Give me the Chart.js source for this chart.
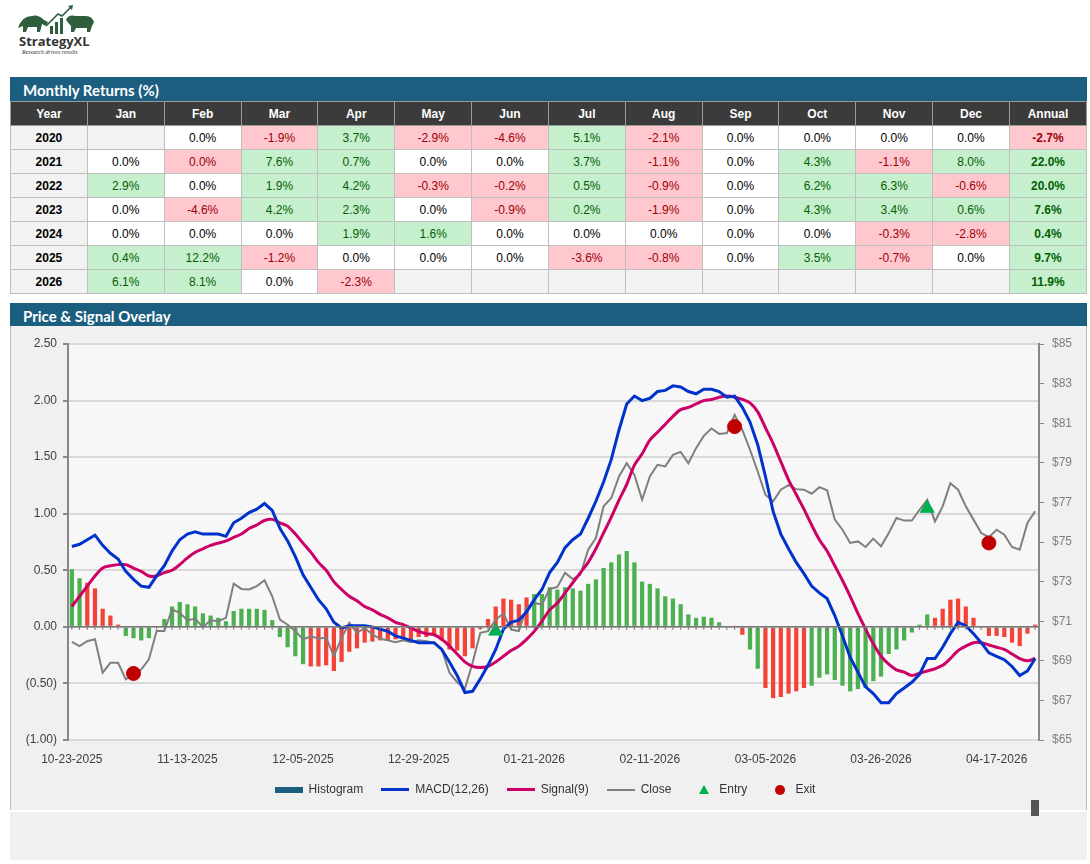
<!DOCTYPE html>
<html><head><meta charset="utf-8">
<script src="https://cdn.jsdelivr.net/npm/chart.js@4.4.1/dist/chart.umd.min.js"></script>
<style>
body{margin:0;width:1090px;height:864px;background:#fff;font-family:"Liberation Sans",Arial,sans-serif;position:relative;overflow:hidden}
.bar{position:absolute;left:10px;width:1077px;height:24px;background:#1b5e80;color:#fff;font-family:Lato,"Open Sans",sans-serif;font-weight:bold;font-size:15px;line-height:26px;padding-left:13px;box-sizing:border-box}
table{position:absolute;left:10px;top:101px;border-collapse:collapse;table-layout:fixed;width:1077px}
td,th{border:1px solid #bfbfbf;height:24px;padding:0;text-align:center;font-size:12px;box-sizing:border-box}
th{background:#3b3b3b;color:#fff;font-weight:bold;border-color:#9a9a9a}
td.y{background:#f2f2f2;font-weight:bold}
td.g{background:#c6efce;color:#006100}
td.r{background:#ffc7ce;color:#9c0006}
td.e{background:#f2f2f2}
td.b{font-weight:bold}
#panel{position:absolute;left:10px;top:326px;width:1077px;height:484px;background:#f0f0f0;border-left:1px solid #bbb;border-right:1px solid #bbb;box-sizing:border-box}
#legend{position:absolute;top:781px;left:0;width:1090px;text-align:center;font-size:12px;color:#333}
#legend span{display:inline-block;margin:0 9px;vertical-align:middle}
#foot{position:absolute;left:10px;top:812px;width:1077px;height:48px;background:#f0f0f0}
</style></head><body>
<svg style="position:absolute;left:16px;top:4px" width="80" height="36" viewBox="0 0 80 36">
<path d="M2 24 Q6 12 16 12 Q22 10 28 16 L32 18 L30 22 L26 20 L24 28 L21 28 L21 23 L12 23 L10 28 L7 28 L7 22 Z" fill="#2e5e3e"/>
<rect x="34" y="22" width="3" height="8" fill="#2e5e3e"/><rect x="39" y="18" width="3" height="12" fill="#2e5e3e"/><rect x="44" y="14" width="3" height="16" fill="#2e5e3e"/>
<path d="M30 22 L42 10 L46 12 L56 2" stroke="#2e5e3e" stroke-width="1.6" fill="none"/><path d="M52 2 L57 1 L56 6 Z" fill="#2e5e3e"/>
<path d="M50 16 Q52 10 60 12 L70 12 Q76 12 78 18 L76 22 L74 28 L71 28 L71 24 L60 24 L58 28 L55 28 L55 22 Z" fill="#2e5e3e"/>
</svg>
<div style="position:absolute;left:19px;top:32px;font-size:13px;font-weight:bold;color:#333;font-family:'Open Sans',sans-serif">StrategyXL</div>
<div style="position:absolute;left:22px;top:49px;font-size:6px;font-style:italic;color:#333;font-family:'Liberation Serif',serif">Research drives results</div>
<div class="bar" style="top:77px">Monthly Returns (%)</div>
<table id="tbl"></table>
<div class="bar" style="top:303px">Price &amp; Signal Overlay</div>
<div id="panel"><canvas id="c" width="1075" height="484" style="width:1075px;height:484px"></canvas></div>
<div id="legend"></div>
<div id="foot"><div style="position:absolute;left:1021px;top:-12px;width:8px;height:16px;background:#555"></div></div>
<script>
// ---- Monthly returns table ----
const years=[2020,2021,2022,2023,2024,2025,2026];
const monthNames=['Jan','Feb','Mar','Apr','May','Jun','Jul','Aug','Sep','Oct','Nov','Dec'];
const r2020=[null,0.0,-1.9,3.7,-2.9,-4.6,5.1,-2.1,0.0,0.0,0.0,0.0];
const r2021=[0.0,-0.01,7.6,0.7,0.0,0.0,3.7,-1.1,0.0,4.3,-1.1,8.0];
const r2022=[2.9,0.0,1.9,4.2,-0.3,-0.2,0.5,-0.9,0.0,6.2,6.3,-0.6];
const r2023=[0.0,-4.6,4.2,2.3,0.0,-0.9,0.2,-1.9,0.0,4.3,3.4,0.6];
const r2024=[0.0,0.0,0.0,1.9,1.6,0.0,0.0,0.0,0.0,0.0,-0.3,-2.8];
const r2025=[0.4,12.2,-1.2,0.0,0.0,0.0,-3.6,-0.8,0.0,3.5,-0.7,0.0];
const r2026=[6.1,8.1,0.0,-2.3,null,null,null,null,null,null,null,null];
const annual=[-2.7,22.0,20.0,7.6,0.4,9.7,11.9];
const rows=[r2020,r2021,r2022,r2023,r2024,r2025,r2026];
function fmt(v){return Math.abs(v).toFixed(1)==='0.0'?'0.0%':v.toFixed(1)+'%';}
function cls(v){return v>0?'g':(v<0?'r':'');}
let h='<tr><th>Year</th>'+monthNames.map(m=>'<th>'+m+'</th>').join('')+'<th>Annual</th></tr>';
rows.forEach((r,i)=>{h+='<tr><td class="y">'+years[i]+'</td>';
 r.forEach(v=>{h+=v===null?'<td class="e"></td>':'<td class="'+cls(v)+'">'+fmt(v)+'</td>';});
 h+='<td class="b '+cls(annual[i])+'">'+fmt(annual[i])+'</td></tr>';});
document.getElementById('tbl').innerHTML=h;

// ---- Chart data ----
const monthDays=[['10','2025',[23,24,27,28,29,30,31]],['11','2025',[3,4,5,6,7,10,11,12,13,14,17,18,19,20,21,24,25,26,28]],
['12','2025',[1,2,3,4,5,8,9,10,11,12,15,16,17,18,19,22,23,24,26,29,30,31]],['01','2026',[2,5,6,7,8,9,12,13,14,15,16,20,21,22,23,26,27,28,29,30]],
['02','2026',[2,3,4,5,6,9,10,11,12,13,17,18,19,20,23,24,25,26,27]],['03','2026',[2,3,4,5,6,9,10,11,12,13,16,17,18,19,20,23,24,25,26,27,30,31]],
['04','2026',[1,2,6,7,8,9,10,13,14,15,16,17,20,21,22,23,24]]];
const dates=[];monthDays.forEach(([m,y,ds])=>ds.forEach(d=>dates.push(m+'-'+String(d).padStart(2,'0')+'-'+y)));
const macd=[0.71,0.73,0.77,0.81,0.72,0.65,0.60,0.49,0.42,0.36,0.35,0.45,0.54,0.67,0.77,0.82,0.84,0.82,0.82,0.82,0.80,0.92,0.96,1.01,1.04,1.09,1.03,0.87,0.76,0.62,0.46,0.35,0.24,0.16,0.04,-0.01,0.01,0.01,0.01,0.00,-0.02,-0.04,-0.08,-0.10,-0.12,-0.14,-0.14,-0.14,-0.20,-0.31,-0.43,-0.58,-0.57,-0.46,-0.34,-0.20,-0.02,0.04,0.06,0.13,0.24,0.33,
0.48,0.57,0.70,0.77,0.82,0.96,1.11,1.28,1.48,1.74,1.97,2.04,2.00,2.02,2.08,2.09,2.13,2.12,2.08,2.06,2.10,2.10,2.08,2.03,2.04,1.94,1.81,1.61,1.33,1.02,0.82,0.69,0.57,0.47,0.36,0.30,0.25,0.10,-0.08,-0.27,-0.40,-0.53,-0.59,-0.67,-0.67,-0.59,-0.54,-0.49,-0.42,-0.28,-0.28,-0.18,-0.06,0.04,0.01,-0.06,-0.14,-0.23,-0.26,-0.29,-0.35,-0.43,-0.39,-0.28];
const signal=[0.18,0.27,0.36,0.45,0.52,0.54,0.55,0.55,0.52,0.49,0.45,0.45,0.48,0.50,0.55,0.61,0.66,0.69,0.72,0.74,0.76,0.79,0.82,0.87,0.90,0.94,0.95,0.92,0.89,0.82,0.74,0.66,0.57,0.50,0.40,0.33,0.27,0.23,0.18,0.15,0.11,0.08,0.04,0.02,-0.01,-0.04,-0.06,-0.07,-0.11,-0.17,-0.24,-0.31,-0.35,-0.36,-0.35,-0.31,-0.26,-0.21,-0.17,-0.11,-0.04,0.05,
0.15,0.21,0.30,0.39,0.48,0.57,0.69,0.83,0.97,1.12,1.26,1.43,1.53,1.65,1.72,1.79,1.86,1.92,1.94,1.97,2.00,2.01,2.03,2.04,2.03,2.01,1.98,1.90,1.76,1.62,1.46,1.30,1.17,1.04,0.90,0.77,0.67,0.54,0.41,0.27,0.12,-0.02,-0.15,-0.26,-0.33,-0.38,-0.40,-0.43,-0.41,-0.39,-0.37,-0.34,-0.28,-0.21,-0.17,-0.14,-0.14,-0.16,-0.18,-0.20,-0.24,-0.28,-0.30,-0.28];
const hist=[0.51,0.43,0.39,0.34,0.16,0.10,0.02,-0.08,-0.10,-0.12,-0.10,0.00,0.07,0.18,0.22,0.20,0.18,0.12,0.10,0.08,0.05,0.14,0.16,0.16,0.16,0.15,0.06,-0.09,-0.18,-0.26,-0.33,-0.35,-0.35,-0.34,-0.39,-0.31,-0.22,-0.19,-0.14,-0.13,-0.12,-0.12,-0.11,-0.11,-0.11,-0.09,-0.09,-0.07,-0.12,-0.20,-0.21,-0.26,-0.19,-0.02,0.07,0.18,0.25,0.24,0.20,0.26,0.29,0.29,
0.35,0.33,0.35,0.34,0.32,0.38,0.42,0.52,0.57,0.64,0.67,0.57,0.40,0.38,0.34,0.27,0.25,0.20,0.11,0.08,0.09,0.08,0.04,0.00,0.01,-0.07,-0.20,-0.37,-0.54,-0.63,-0.62,-0.59,-0.57,-0.54,-0.52,-0.45,-0.42,-0.47,-0.52,-0.57,-0.55,-0.54,-0.48,-0.44,-0.24,-0.20,-0.12,-0.05,0.02,0.11,0.08,0.16,0.24,0.25,0.18,0.08,0.00,-0.08,-0.08,-0.09,-0.14,-0.17,-0.06,0.02];
const histUp='GGRRRRRGGGGGGGGGGGGGGGGGGGGGGGGRRRRRRRRRRRRRRRRRRRRRRRRRRRRRGG'+'GGGGGGGGGGGGGGGGGGGGGGGGRRGGRRRRRRGGGGGGGGGGGGGGGGRRRRRRRRRRRRRRR';
const close=[69.96,69.74,69.99,70.09,68.40,68.90,68.90,68.06,68.31,68.56,69.07,70.50,70.51,71.59,71.42,71.05,71.12,70.70,71.05,71.00,71.17,72.90,72.63,72.60,72.77,73.07,72.26,71.08,70.82,70.50,70.08,70.24,70.13,70.16,69.24,70.16,70.92,70.41,70.66,70.33,70.11,70.04,69.94,70.04,69.94,70.04,69.99,69.91,69.57,68.40,67.92,67.59,68.90,70.41,70.50,71.08,71.39,70.58,70.50,71.67,71.92,71.84,
72.63,72.73,73.44,73.13,73.35,74.61,75.20,76.80,77.22,78.31,78.98,78.39,77.13,78.31,78.90,78.82,79.40,79.55,78.98,79.74,80.36,80.73,80.46,80.50,81.42,80.66,79.66,78.56,77.39,77.05,77.64,77.87,77.67,77.64,77.44,77.77,77.61,76.13,75.62,74.95,75.03,74.75,75.17,74.78,75.45,76.21,76.08,76.08,76.63,77.13,76.04,76.80,77.97,77.64,76.80,76.13,75.45,75.24,75.62,75.37,74.75,74.61,75.96,76.55];
const entryIdx=[55,111], entryVal=[70.5,76.7];
const exitIdx=[8,86,119], exitVal=[68.36,80.83,74.95];
const leftTicks=[-1,-0.5,0,0.5,1,1.5,2,2.5];
const rightTicks=[65,67,69,71,73,75,77,79,81,83,85];

const entry=dates.map((d,i)=>{const k=entryIdx.indexOf(i);return k<0?null:entryVal[k];});
const exit=dates.map((d,i)=>{const k=exitIdx.indexOf(i);return k<0?null:exitVal[k];});
const barColors=hist.map((v,i)=>histUp[i]==='G'?'#4caf50':'#f44336');

const zeroPlugin={id:'zero',afterDatasetsDraw(ch){const {ctx,chartArea:a,scales}=ch;const y=scales.y.getPixelForValue(0);
 ctx.save();ctx.strokeStyle='#777';ctx.lineWidth=1.5;ctx.beginPath();ctx.moveTo(a.left,y);ctx.lineTo(a.right,y);ctx.stroke();
 ctx.lineWidth=1;for(let i=0;i<dates.length;i++){const x=scales.x.getPixelForValue(i);ctx.beginPath();ctx.moveTo(x,y);ctx.lineTo(x,y+3);ctx.stroke();}
 ctx.restore();}};
const bgPlugin={id:'bgp',beforeDraw(ch){const {ctx,chartArea:a}=ch;ctx.save();ctx.fillStyle='#f7f7f7';ctx.fillRect(a.left,a.top,a.right-a.left,a.bottom-a.top);ctx.restore();}};
Chart.defaults.font.family='"Liberation Sans",Arial,sans-serif';
new Chart(document.getElementById('c'),{
 type:'bar',
 data:{labels:dates,datasets:[
  {type:'line',label:'Entry',data:entry,yAxisID:'y1',showLine:false,pointStyle:'triangle',pointRadius:8,backgroundColor:'#00b050',borderColor:'#00b050',order:0},
  {type:'line',label:'Exit',data:exit,yAxisID:'y1',showLine:false,pointStyle:'circle',pointRadius:7,backgroundColor:'#c00000',borderColor:'#c00000',order:0},
  {type:'line',label:'MACD(12,26)',data:macd,yAxisID:'y',borderColor:'#0033cc',borderWidth:3,pointRadius:0,tension:0,order:1},
  {type:'line',label:'Signal(9)',data:signal,yAxisID:'y',borderColor:'#cc0066',borderWidth:3,pointRadius:0,tension:0.3,order:2},
  {type:'line',label:'Close',data:close,yAxisID:'y1',borderColor:'#7f7f7f',borderWidth:2,pointRadius:0,tension:0,order:3},
  {type:'bar',label:'Histogram',data:hist,yAxisID:'y',backgroundColor:barColors,barPercentage:0.55,categoryPercentage:1,order:4}
 ]},
 options:{responsive:false,animation:false,layout:{padding:{top:18,bottom:40,left:0,right:0}},
  plugins:{legend:{display:false},tooltip:{enabled:false}},
  scales:{
   x:{type:'category',offset:true,grid:{display:false},border:{display:false},
      ticks:{autoSkip:false,maxRotation:0,color:'#404040',font:{size:12},padding:4,callback:(v,i)=>i%15===0?dates[i]:''},
      afterFit(s){s.height=30;}},
   y:{type:'linear',position:'left',min:-1,max:2.5,afterBuildTicks(s){s.ticks=leftTicks.map(v=>({value:v}));},
      grid:{color:'#d9d9d9',lineWidth:2,drawTicks:true,tickLength:5,tickColor:'#888'},border:{color:'#888',width:2},
      ticks:{color:'#404040',font:{size:12},padding:6,callback:v=>v<0?'('+Math.abs(v).toFixed(2)+')':v.toFixed(2)},afterFit(s){s.width=57;}},
   y1:{type:'linear',position:'right',min:65,max:85,afterBuildTicks(s){s.ticks=rightTicks.map(v=>({value:v}));},
      grid:{drawOnChartArea:false,drawTicks:true,tickLength:5,tickColor:'#888'},border:{color:'#888',width:2},
      ticks:{color:'#7f7f7f',font:{size:12},padding:8,callback:v=>'$'+v},afterFit(s){s.width=47;}}
  }},
 plugins:[bgPlugin,zeroPlugin]});

document.getElementById('legend').innerHTML=
 '<span><i style="display:inline-block;width:28px;height:6px;background:#1b5e80;vertical-align:middle;margin-right:6px"></i>Histogram</span>'+
 '<span><i style="display:inline-block;width:28px;height:3px;background:#0033cc;vertical-align:middle;margin-right:6px"></i>MACD(12,26)</span>'+
 '<span><i style="display:inline-block;width:28px;height:3px;background:#cc0066;vertical-align:middle;margin-right:6px"></i>Signal(9)</span>'+
 '<span><i style="display:inline-block;width:28px;height:2px;background:#7f7f7f;vertical-align:middle;margin-right:6px"></i>Close</span>'+
 '<span><i style="display:inline-block;width:0;height:0;border-left:5px solid transparent;border-right:5px solid transparent;border-bottom:9px solid #00b050;vertical-align:middle;margin:0 10px"></i>Entry</span>'+
 '<span><i style="display:inline-block;width:10px;height:10px;border-radius:50%;background:#c00000;vertical-align:middle;margin:0 10px"></i>Exit</span>';
</script></body></html>
